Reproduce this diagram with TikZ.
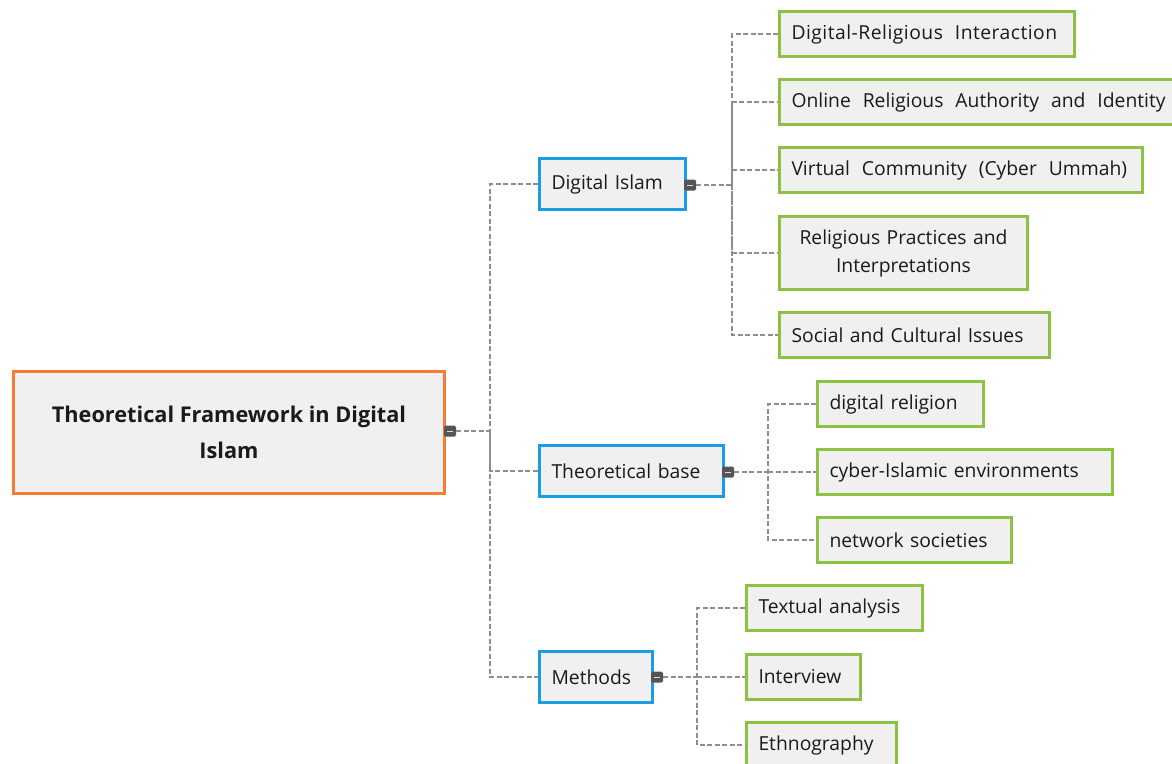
\documentclass[tikz,border=0pt]{standalone}
\usepackage{fontspec}
\setmainfont{Open Sans}
\definecolor{boxfill}{HTML}{F0F0F0}
\definecolor{rootline}{HTML}{F77B35}
\definecolor{midline}{HTML}{1B9DE5}
\definecolor{leafline}{HTML}{8DC143}
\definecolor{connline}{HTML}{8E8E8E}
\definecolor{markfill}{HTML}{555555}
\definecolor{inktext}{HTML}{1A1A1A}
\newcommand{\widewordspace}{\spaceskip=0.62em\relax}
\tikzset{
  basebox/.style={fill=boxfill, line width=3pt, text=inktext, inner ysep=0pt, anchor=west},
  rootbox/.style={basebox, draw=rootline, font=\bfseries\fontsize{21.7}{36}\selectfont,
    align=center, minimum width=431pt, minimum height=122pt},
  midbox/.style={basebox, draw=midline, font=\fontsize{19.3}{22}\selectfont,
    align=left, inner xsep=12pt, minimum height=51pt},
  leafbox/.style={basebox, draw=leafline, font=\fontsize{19.3}{28}\selectfont,
    align=left, inner xsep=12pt, minimum height=45pt},
  conn/.style={draw=connline, line width=2.2pt, dash pattern=on 5pt off 2.5pt},
  marker/.style={fill=markfill, rounded corners=1.5pt, minimum width=12pt,
    minimum height=11pt, inner sep=0pt,
    path picture={\draw[white!75!gray, line width=1pt]
      ([xshift=-3pt]path picture bounding box.center) --
      ([xshift=3pt]path picture bounding box.center);}},
}
\begin{document}
\begin{tikzpicture}[x=1pt, y=-1pt]
\useasboundingbox (0,0) rectangle (1172,763);
\clip (0,0) rectangle (1172,763);
\fill[white] (0,0) rectangle (1172,763);

% root
\node[rootbox] (root) at (12,432) {Theoretical Framework in Digital\\Islam};

% second level
\node[midbox, text width=122pt] (dig) at (538,184) {Digital Islam};
\node[midbox, text width=160pt] (theo) at (538,471) {Theoretical base};
\node[midbox, text width=89pt]  (meth) at (538,677) {Methods};

% leaves of Digital Islam
\node[leafbox, text width=271pt] (dri) at (778,34) {\addfontfeature{LetterSpace=2.5}\widewordspace Digital-Religious Interaction};
\node[leafbox, text width=400pt] (ora) at (778,102) {\widewordspace Online Religious Authority and Identity};
\node[leafbox, text width=339pt] (vc)  at (778,170) {\widewordspace Virtual Community (Cyber Ummah)};
\node[leafbox, align=center, text width=224pt, minimum height=73pt] (rpi) at (778,253) {Religious Practices and\\Interpretations};
\node[leafbox, text width=246pt] (sci) at (778,335) {Social and Cultural Issues};

% leaves of Theoretical base
\node[leafbox, text width=142pt] (dr)  at (816,404) {digital religion};
\node[leafbox, text width=271pt] (cie) at (816,472) {cyber-Islamic environments};
\node[leafbox, text width=170pt] (ns)  at (816,540) {network societies};

% leaves of Methods
\node[leafbox, text width=152pt] (ta)  at (745,608) {Textual analysis};
\node[leafbox, text width=90pt]  (iv)  at (745,677) {Interview};
\node[leafbox, text width=126pt] (eth) at (745,745) {Ethnography};

% collapse markers
\node[marker] (m0) at (450,431) {};
\node[marker] (m1) at (690,185) {};
\node[marker] (m2) at (728,472) {};
\node[marker] (m3) at (657,677) {};

% junctions on the trunks
\coordinate (j0) at (490,431);
\coordinate (j1) at (732,185);
\coordinate (j2) at (768,472);
\coordinate (j3) at (697,677);

% root to second level
\draw[conn] (m0.east) -- (j0);
\draw[conn] (dig.west) -| (j0) |- (meth.west);
\draw[conn] (j0) |- (theo.west);

% Digital Islam to its leaves
\draw[conn] (m1.east) -- (j1);
\draw[conn] (dri.west) -| (j1) |- (sci.west);
\draw[conn] (j1) |- (ora.west);
\draw[conn] (j1) |- (vc.west);
\draw[conn] (j1) |- (rpi.west);

% Theoretical base to its leaves
\draw[conn] (m2.east) -- (j2);
\draw[conn] (dr.west) -| (j2) |- (ns.west);
\draw[conn] (j2) -- (cie.west);

% Methods to its leaves
\draw[conn] (m3.east) -- (j3);
\draw[conn] (ta.west) -| (j3) |- (eth.west);
\draw[conn] (j3) -- (iv.west);
\end{tikzpicture}
\end{document}
